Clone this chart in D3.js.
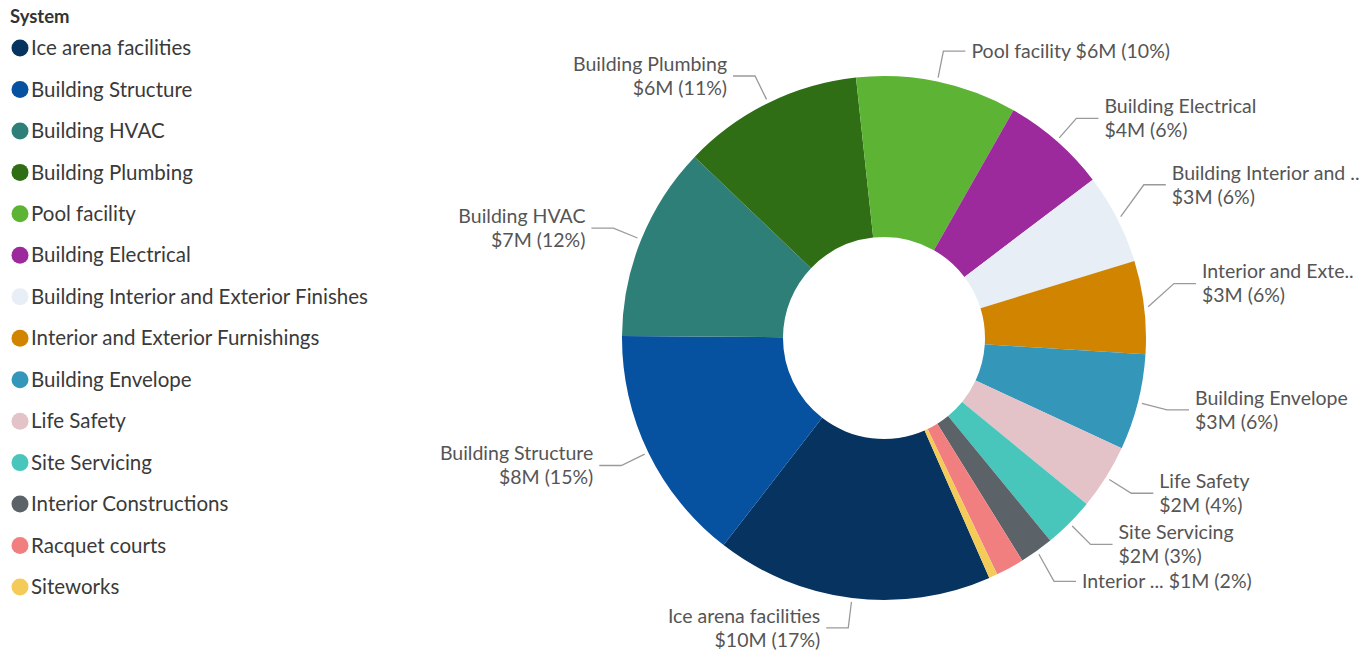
<!DOCTYPE html>
<html>
<head>
<meta charset="utf-8">
<script src="https://cdn.jsdelivr.net/npm/d3@7/dist/d3.min.js"></script>
<style>
  html, body { margin: 0; padding: 0; background: #ffffff; }
  svg { display: block; font-family: Lato, "Open Sans", sans-serif; }
</style>
</head>
<body>
<svg id="chart" width="1371" height="653"></svg>
<script>
// Capital cost by building system, in millions of dollars
const systems = [
  "Ice arena facilities", "Building Structure", "Building HVAC", "Building Plumbing",
  "Pool facility", "Building Electrical", "Building Interior and Exterior Finishes",
  "Interior and Exterior Furnishings", "Building Envelope", "Life Safety",
  "Site Servicing", "Interior Constructions", "Racquet courts", "Siteworks"
];
const costs = [9.8, 8.4, 6.9, 6.4, 5.7, 3.7, 3.2, 3.3, 3.4, 2.3, 1.8, 1.2, 1.0, 0.3];
const colors = [
  "#06335f", "#0752a0", "#2f7f79", "#2f6e14", "#5cb334", "#9c2a9c", "#e7eef6",
  "#d08400", "#3497ba", "#e3c2c8", "#48c6bb", "#5b6368", "#f27f80", "#f4cb59"
];
// Shortened names used in the slice labels
const shortNames = {
  "Building Interior and Exterior Finishes": "Building Interior and ..",
  "Interior and Exterior Furnishings": "Interior and Exte..",
  "Interior Constructions": "Interior ..."
};
// Labels drawn on a single line
const singleLine = new Set(["Pool facility", "Interior Constructions"]);
// Vertical nudges for crowded labels
const labelNudge = {
  "Building Interior and Exterior Finishes": -20,
  "Interior and Exterior Furnishings": -20,
  "Pool facility": -1,
  "Interior Constructions": 6
};
// Slices below this share get no label
const minLabelShare = 0.02;

const svg = d3.select("#chart");
const total = d3.sum(costs);
const data = systems.map((s, i) => ({ name: s, value: costs[i], color: colors[i] }));

const fontSize = 19.5;

// ---- Legend ----
const legend = svg.append("g").attr("transform", "translate(10,0)");
legend.append("text")
  .attr("x", 0).attr("y", 23)
  .attr("font-size", 18.5).attr("font-weight", 700).attr("fill", "#333")
  .text("System");
const ly = d3.scalePoint().domain(systems).range([48, 587]);
const li = legend.selectAll("g.item").data(data).join("g")
  .attr("class", "item")
  .attr("transform", d => `translate(0,${ly(d.name)})`);
li.append("circle").attr("cx", 10).attr("cy", 0).attr("r", 8.5).attr("fill", d => d.color);
li.append("text").attr("x", 21).attr("y", 0).attr("dy", "0.35em")
  .attr("font-size", 20.5).attr("fill", "#3a3a3a").text(d => d.name);

// ---- Donut ----
const cx = 884, cy = 338, outerR = 262, innerR = 101;
const start = 156.3 * Math.PI / 180;
const pie = d3.pie().value(d => d.value).sort(null)
  .startAngle(start).endAngle(start + 2 * Math.PI);
const arcs = pie(data);
const arc = d3.arc().innerRadius(innerR).outerRadius(outerR);

const g = svg.append("g").attr("transform", `translate(${cx},${cy})`);
g.selectAll("path.slice").data(arcs).join("path")
  .attr("class", "slice")
  .attr("d", arc)
  .attr("fill", d => d.data.color);

// ---- Leader lines and labels ----
const fmt = d => `$${Math.round(d.data.value)}M (${Math.round(d.data.value / total * 100)}%)`;
const polar = (a, r) => [Math.sin(a) * r, -Math.cos(a) * r];

arcs.filter(d => d.data.value / total >= minLabelShare).forEach(d => {
  const mid = (d.startAngle + d.endAngle) / 2;
  const right = Math.sin(mid) > 0;
  const nudge = labelNudge[d.data.name] || 0;
  const p0 = polar(mid, outerR + 4);
  const p1 = polar(mid, outerR + 30);
  p1[1] += nudge;
  const p2 = [p1[0] + (right ? 22 : -22), p1[1]];
  g.append("polyline")
    .attr("points", [p0, p1, p2].map(p => p.join(",")).join(" "))
    .attr("fill", "none").attr("stroke", "#9a9a9a").attr("stroke-width", 1.3);

  const name = shortNames[d.data.name] || d.data.name;
  const tx = p2[0] + (right ? 6 : -6);
  const t = g.append("text")
    .attr("x", tx)
    .attr("text-anchor", right ? "start" : "end")
    .attr("font-size", fontSize).attr("fill", "#555");
  if (singleLine.has(d.data.name)) {
    t.attr("y", p2[1]).attr("dy", "0.35em").text(`${name} ${fmt(d)}`);
  } else {
    t.append("tspan").attr("x", tx).attr("y", p2[1] - 12)
      .attr("dy", "0.35em").text(name);
    t.append("tspan").attr("x", tx).attr("y", p2[1] + 12)
      .attr("dy", "0.35em").text(fmt(d));
  }
});
</script>
</body>
</html>
